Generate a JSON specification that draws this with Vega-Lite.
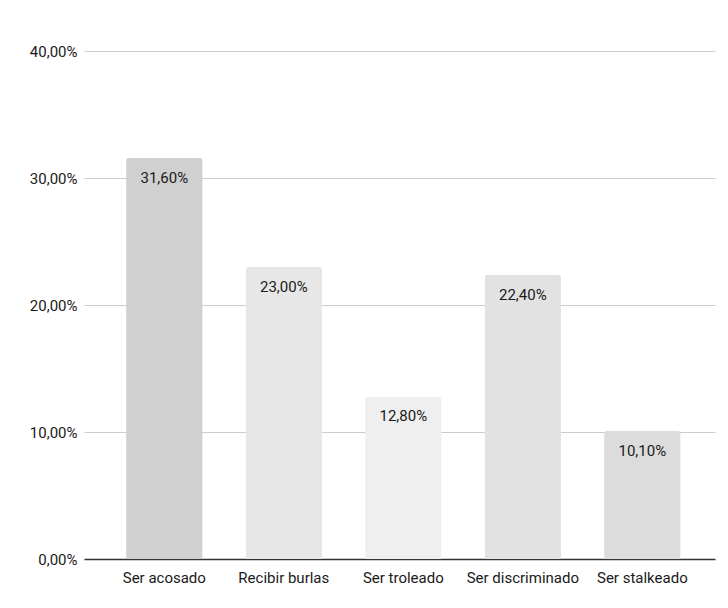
{
  "$schema": "https://vega.github.io/schema/vega-lite/v6.json",
  "width": 631,
  "height": 508,
  "autosize": {"type": "none"},
  "padding": {"left": 84, "top": 51, "right": 13, "bottom": 49},
  "background": "#ffffff",
  "config": {
    "locale": {"number": {"decimal": ",", "thousands": ".", "grouping": [3], "currency": ["", " €"]}},
    "view": {"stroke": null},
    "font": "Roboto"
  },
  "data": {
    "values": [
      {"categoria": "Ser acosado", "valor": 0.316},
      {"categoria": "Recibir burlas", "valor": 0.23},
      {"categoria": "Ser troleado", "valor": 0.128},
      {"categoria": "Ser discriminado", "valor": 0.224},
      {"categoria": "Ser stalkeado", "valor": 0.101}
    ]
  },
  "encoding": {
    "x": {
      "field": "categoria",
      "type": "nominal",
      "sort": null,
      "scale": {"paddingInner": 0.36, "paddingOuter": 0.32, "align": 0.55},
      "axis": {
        "title": null,
        "labelAngle": 0,
        "labelFont": "Roboto",
        "labelFontSize": 15,
        "labelColor": "#1a1a1a",
        "labelPadding": 11,
        "ticks": false,
        "domain": true,
        "domainColor": "#333333",
        "domainWidth": 1.5,
        "grid": false
      }
    },
    "y": {
      "field": "valor",
      "type": "quantitative",
      "scale": {"domain": [0, 0.4], "nice": false},
      "axis": {
        "title": null,
        "values": [0, 0.1, 0.2, 0.3, 0.4],
        "format": ".2%",
        "labelFont": "Roboto",
        "labelFontSize": 15,
        "labelColor": "#1a1a1a",
        "labelPadding": 7,
        "ticks": false,
        "domain": false,
        "grid": true,
        "gridColor": "#cccccc",
        "gridWidth": 1
      }
    }
  },
  "layer": [
    {
      "mark": {"type": "bar", "cornerRadiusTopLeft": 3, "cornerRadiusTopRight": 3},
      "encoding": {
        "color": {
          "field": "categoria",
          "type": "nominal",
          "sort": null,
          "scale": {
            "domain": ["Ser acosado", "Recibir burlas", "Ser troleado", "Ser discriminado", "Ser stalkeado"],
            "range": ["#d0d0d0", "#e7e7e7", "#efefef", "#e2e2e2", "#dcdcdc"]
          },
          "legend": null
        }
      }
    },
    {
      "mark": {"type": "text", "baseline": "middle", "align": "center", "dy": 20, "font": "Roboto", "fontSize": 15, "color": "#1a1a1a"},
      "encoding": {
        "text": {"field": "valor", "type": "quantitative", "format": ".2%"}
      }
    },
    {
      "mark": {"type": "rule", "color": "#333333", "strokeWidth": 1.5},
      "encoding": {"y": {"datum": 0}}
    }
  ]
}
